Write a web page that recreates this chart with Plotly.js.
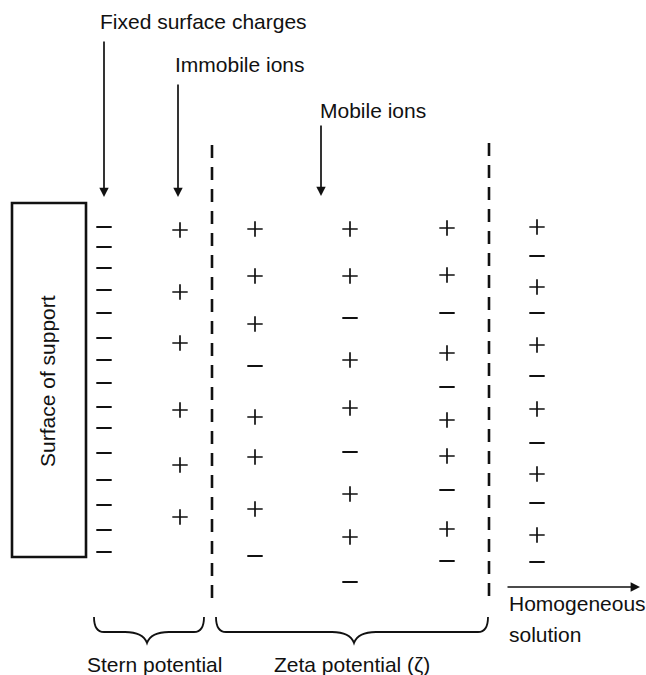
<!DOCTYPE html>
<html>
<head>
<meta charset="utf-8">
<script src="https://cdn.plot.ly/plotly-3.0.1.min.js"></script>
<style>html,body{margin:0;padding:0;background:#fff;}#chart{width:646px;height:675px;}</style>
</head>
<body>
<div id="chart"></div>
<script>
// ---- data: charge layers (vertical positions of each charge and its sign) ----
const layerNames = ['Fixed surface charges', 'Immobile ions', 'Mobile ions 1', 'Mobile ions 2', 'Mobile ions 3', 'Homogeneous solution'];
const surfaceChargeY    = [227, 247, 268, 290, 313, 338, 360, 383, 407, 428, 453, 480, 505, 530, 552];
const surfaceChargeSign = ['-', '-', '-', '-', '-', '-', '-', '-', '-', '-', '-', '-', '-', '-', '-'];
const sternIonY    = [230, 292, 343, 410, 465, 517];
const sternIonSign = ['+', '+', '+', '+', '+', '+'];
const zetaIon1Y    = [229, 276, 324, 366, 417, 457, 509, 556];
const zetaIon1Sign = ['+', '+', '+', '-', '+', '+', '+', '-'];
const zetaIon2Y    = [229, 276, 318, 360, 408, 452, 494, 537, 582];
const zetaIon2Sign = ['+', '+', '-', '+', '+', '-', '+', '+', '-'];
const zetaIon3Y    = [228, 275, 313, 353, 387, 420, 456, 490, 529, 561];
const zetaIon3Sign = ['+', '+', '-', '+', '-', '+', '+', '-', '+', '-'];
const bulkIonY     = [227, 256, 287, 313, 345, 376, 409, 443, 474, 503, 535, 562];
const bulkIonSign  = ['+', '-', '+', '-', '+', '-', '+', '-', '+', '-', '+', '-'];

const labels = ['Fixed surface charges', 'Immobile ions', 'Mobile ions', 'Surface of support',
                'Stern potential', 'Zeta potential (ζ)', 'Homogeneous', 'solution'];

// ---- layout geometry (diagram coordinates, px-like) ----
const W = 646, H = 675;
const columnX = [104, 180, 255, 350, 447, 537];
const columnsY = [surfaceChargeY, sternIonY, zetaIon1Y, zetaIon2Y, zetaIon3Y, bulkIonY];
const columnsSign = [surfaceChargeSign, sternIonSign, zetaIon1Sign, zetaIon2Sign, zetaIon3Sign, bulkIonSign];
const FONT = 'Liberation Sans, Arial, Helvetica, sans-serif';
const FS = 21;

const traces = [];
columnsY.forEach((ys, i) => {
  const signs = columnsSign[i];
  ['+', '-'].forEach(s => {
    const yy = ys.filter((_, k) => signs[k] === s);
    if (!yy.length) return;
    traces.push({
      type: 'scatter', mode: 'markers', name: layerNames[i] + ' ' + s,
      x: yy.map(() => columnX[i]), y: yy, hoverinfo: 'skip', showlegend: false,
      marker: {
        symbol: s === '+' ? 'cross-thin' : 'line-ew',
        size: 11, color: '#111',
        line: {color: '#111', width: s === '+' ? 1.7 : 2.0}
      }
    });
  });
});

// dashed boundaries (Stern plane, shear plane)
const boundaryX = [212, 489];
const boundaryTop = [145, 143];
boundaryX.forEach((bx, i) => {
  traces.push({
    type: 'scatter', mode: 'lines', x: [bx, bx], y: [boundaryTop[i], 600],
    line: {color: '#111', width: 2.6, dash: '13px,9px'}, hoverinfo: 'skip', showlegend: false
  });
});

// braces
function brace(x0, x1, yTop, yMid, yTip) {
  const xm = (x0 + x1) / 2 + (x1 - x0 > 200 ? 2 : -2);
  return `M ${x0},${yTop} Q ${x0},${yMid} ${x0 + 10},${yMid} L ${xm - 22},${yMid} Q ${xm - 4},${yMid} ${xm},${yTip} ` +
         `Q ${xm + 4},${yMid} ${xm + 22},${yMid} L ${x1 - 10},${yMid} Q ${x1},${yMid} ${x1},${yTop}`;
}

const shapes = [
  {type: 'rect', xref: 'x', yref: 'y', x0: 12, x1: 86, y0: 203, y1: 557, line: {color: '#111', width: 2.6}},
  {type: 'path', xref: 'x', yref: 'y', path: brace(94, 204, 617, 632, 643), line: {color: '#111', width: 1.8}},
  {type: 'path', xref: 'x', yref: 'y', path: brace(216, 488, 617, 632, 643), line: {color: '#111', width: 1.8}}
];

const arrowCommon = {xref: 'x', yref: 'y', axref: 'x', ayref: 'y', showarrow: true, text: '',
  arrowhead: 2, arrowsize: 1.1, arrowwidth: 1.7, arrowcolor: '#111'};
const txt = (x, y, t, extra) => Object.assign({x: x, y: y, xref: 'x', yref: 'y', text: t, showarrow: false,
  xanchor: 'left', yanchor: 'middle', font: {family: FONT, size: FS, color: '#111'}}, extra || {});
const annotations = [
  Object.assign({x: 104, y: 197, ax: 104, ay: 40}, arrowCommon),
  Object.assign({x: 178, y: 197, ax: 178, ay: 83}, arrowCommon),
  Object.assign({x: 321, y: 196, ax: 321, ay: 124}, arrowCommon),
  Object.assign({x: 640, y: 587, ax: 506, ay: 587}, arrowCommon),
  txt(98, 21, labels[0]),
  txt(173, 64, labels[1]),
  txt(318, 110, labels[2]),
  txt(47, 381, labels[3], {textangle: -90, xanchor: 'center'}),
  txt(154, 664, labels[4], {xanchor: 'center'}),
  txt(352, 664, labels[5], {xanchor: 'center'}),
  txt(507, 603, labels[6]),
  txt(507, 634, labels[7])
];

const layout = {
  width: W, height: H, margin: {l: 0, r: 0, t: 0, b: 0},
  paper_bgcolor: '#fff', plot_bgcolor: '#fff',
  xaxis: {range: [0, W], visible: false, fixedrange: true},
  yaxis: {range: [H, 0], visible: false, fixedrange: true},
  shapes: shapes, annotations: annotations, showlegend: false
};

Plotly.newPlot('chart', traces, layout, {displayModeBar: false, staticPlot: true});
</script>
</body>
</html>
